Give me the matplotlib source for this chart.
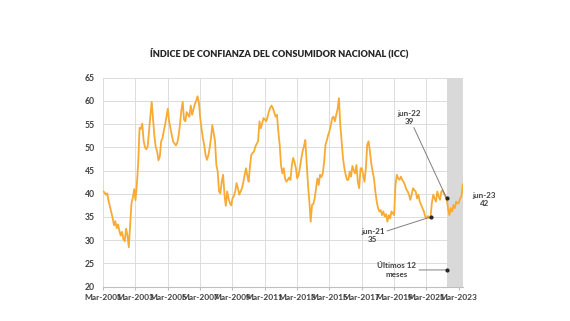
import numpy as np
import pandas as pd
import matplotlib.pyplot as plt

plt.rcParams['font.family'] = ['Lato', 'DejaVu Sans']

# monthly ICC, Mar-2001 .. Jun-2023 (one row per Mar-Feb year)
icc = [
    40.5, 40.3, 39.8, 40.1, 38.5, 37.2, 36.0, 34.8, 33.2, 34.1, 32.6, 33.4,
    32.1, 31.0, 31.8, 30.2, 29.8, 32.5, 31.0, 28.5, 33.5, 38.0, 39.2, 41.0,
    38.6, 42.0, 46.5, 54.2, 54.0, 55.1, 51.5, 50.0, 49.6, 50.2, 53.5, 57.0,
    59.8, 56.0, 52.5, 50.0, 49.2, 47.2, 48.0, 51.3, 52.0, 53.6, 55.0, 56.8,
    58.3, 55.5, 54.0, 52.5, 51.2, 50.8, 50.4, 51.0, 52.6, 55.0, 58.0, 59.8,
    56.0, 55.6, 57.6, 57.0, 56.6, 59.0, 57.0, 58.2, 59.3, 60.0, 61.0, 59.7,
    56.5, 54.1, 52.0, 50.5, 48.4, 47.3, 48.2, 49.8, 52.0, 54.8, 53.0, 51.3,
    46.2, 44.8, 40.5, 40.1, 42.6, 44.1, 39.8, 37.4, 40.5, 39.0, 38.0, 37.5,
    39.0, 39.5, 40.5, 42.3, 41.2, 39.8, 40.5, 41.2, 42.5, 44.1, 45.5, 43.8,
    42.6, 46.0, 48.4, 48.8, 49.1, 50.2, 50.8, 51.3, 55.6, 54.1, 55.2, 56.3,
    56.0, 55.6, 56.5, 57.7, 58.5, 59.0, 58.4, 57.5, 56.6, 57.0, 53.4, 50.5,
    46.2, 44.4, 45.5, 43.3, 42.6, 43.0, 43.5, 43.0, 46.2, 47.7, 46.8, 45.5,
    43.3, 44.0, 45.5, 47.5, 49.1, 50.2, 51.6, 46.9, 41.9, 38.5, 34.0, 37.6,
    37.8, 39.0, 41.2, 43.3, 41.9, 44.1, 43.6, 44.4, 46.9, 50.5, 51.5, 52.7,
    53.5, 54.8, 56.3, 56.6, 55.6, 57.0, 58.2, 60.6, 54.8, 51.3, 47.7, 45.5,
    44.1, 43.0, 43.0, 44.8, 43.7, 46.0, 45.0, 44.4, 46.2, 42.6, 41.2, 45.5,
    45.5, 44.1, 42.6, 45.5, 50.5, 51.3, 49.1, 46.5, 44.8, 43.3, 40.5, 38.3,
    37.0, 36.2, 36.5, 35.4, 36.2, 35.1, 35.6, 34.0, 35.4, 34.7, 36.2, 35.8,
    35.4, 41.9, 44.1, 43.3, 43.0, 43.7, 43.0, 42.6, 41.9, 41.0, 40.5, 39.8,
    38.7, 39.8, 41.2, 40.8, 40.5, 39.0, 39.8, 38.3, 37.6, 36.9, 36.2, 35.1,
    34.7, 35.2, 34.8, 35.0, 38.0, 39.8, 39.0, 38.3, 40.5, 39.4, 38.7, 40.5,
    40.8, 40.0, 39.5, 39.0, 36.9, 35.4, 36.9, 36.2, 37.6, 36.9, 38.3, 37.9,
    38.0, 39.0, 39.5, 42.0,
]
dates = pd.date_range('2001-03-01', periods=len(icc), freq='MS')
serie = pd.Series(icc, index=dates)

tick_dates = dates[::24]
tick_labels = [d.strftime('Mar-%Y') for d in tick_dates]

# highlighted points
hitos = {'jun-21': pd.Timestamp('2021-06-01'),
         'jun-22': pd.Timestamp('2022-06-01'),
         'jun-23': pd.Timestamp('2023-06-01')}

fig = plt.figure(figsize=(5.7, 3.21), dpi=100)
ax = fig.add_axes([0.181, 0.107, 0.631, 0.651])

ax.axvspan(pd.Timestamp('2022-06-01'), dates[-1], color='#d9d9d9', lw=0, zorder=1)
ax.plot(serie.index, serie.values, color='#f7ab35', lw=1.3, zorder=3)

ax.set_xlim(dates[0], dates[-1])
ax.set_ylim(20, 65)
ax.set_yticks(range(20, 66, 5))
ax.set_xticks(tick_dates)
ax.set_xticklabels(tick_labels)
ax.grid(True, color='#dcdcdc', lw=0.7, zorder=0)
ax.set_axisbelow(True)
for s in ['top', 'right', 'left']:
    ax.spines[s].set_visible(False)
ax.spines['bottom'].set_color('#bfbfbf')
ax.tick_params(axis='x', length=2, color='#bfbfbf', labelsize=6, pad=3,
               labelcolor='#404040')
ax.tick_params(axis='y', length=0, labelsize=6.2, pad=6, labelcolor='#404040')
for lab in ax.get_xticklabels() + ax.get_yticklabels():
    lab.set_fontweight('bold')

fig.text(0.49, 0.835, 'ÍNDICE DE CONFIANZA DEL CONSUMIDOR NACIONAL (ICC)',
         ha='center', va='center', fontsize=6.6, fontweight='heavy', color='#262626')

txt = dict(fontsize=5.8, fontweight='bold', color='#404040', ha='center', va='center')
line = dict(arrowstyle='-', color='#7f7f7f', lw=0.7, shrinkA=0, shrinkB=0)

d = hitos['jun-22']
ax.annotate('jun-22\n39', xy=(d, serie[d]), xytext=(pd.Timestamp('2020-02-01'), 56.5),
            arrowprops=line, **txt)
ax.plot(d, serie[d], 'o', color='#262626', ms=2, zorder=4)

d = hitos['jun-21']
ax.annotate('jun-21\n35', xy=(d, serie[d]), xytext=(pd.Timestamp('2017-11-01'), 31),
            arrowprops=line, **txt)
ax.plot(d, serie[d], 'o', color='#262626', ms=2, zorder=4)

d = hitos['jun-23']
ax.annotate('jun-23\n42', xy=(d, serie[d]), xytext=(pd.Timestamp('2024-10-01'), 38.8),
            annotation_clip=False, **txt)

ax.annotate('Últimos 12\nmeses', xy=(pd.Timestamp('2022-06-01'), 23.6),
            xytext=(pd.Timestamp('2019-05-01'), 23.6), arrowprops=line, **txt)
ax.plot(pd.Timestamp('2022-06-01'), 23.6, 'o', color='#262626', ms=2, zorder=4)

plt.savefig('out.png', dpi=100)
